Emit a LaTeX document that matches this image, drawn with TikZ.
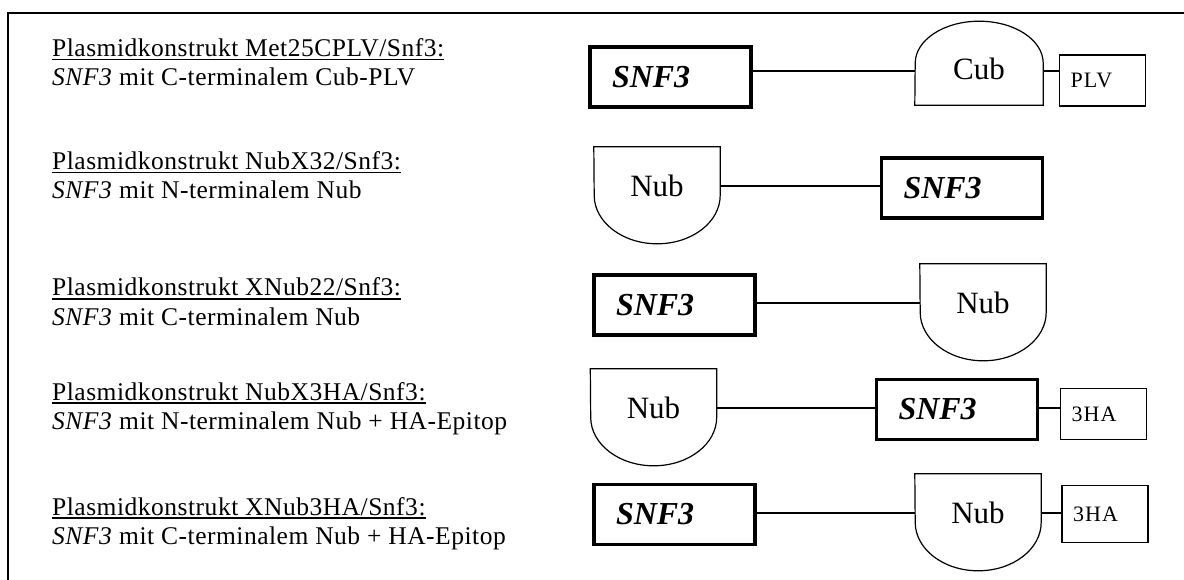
\documentclass[tikz,border=0pt]{standalone}
\usepackage{fontspec}
\setmainfont{Liberation Serif}
\newfontfamily\descfont{Liberation Serif}[LetterSpace=2]
\newfontfamily\tagfont{Liberation Serif}[LetterSpace=5]
\usetikzlibrary{positioning,calc}

% underline as in the original, crossing the descenders
\newcommand{\konstrukt}[1]{\setbox0\hbox{#1}\rlap{\rule[-3.5pt]{\wd0}{1.3pt}}\box0}

\tikzset{
  gene/.style={draw, line width=3.2pt, minimum height=60pt, text width=117pt, inner xsep=22pt, align=left,
    font=\fontsize{32}{38}\selectfont\bfseries\itshape},
  tagbox/.style={draw, line width=1.2pt, minimum height=51pt, text width=64pt, inner xsep=11pt, align=left,
    font=\tagfont\fontsize{22}{26}\selectfont},
  dom/.style={minimum width=126pt, minimum height=78pt, inner sep=0pt, font=\fontsize{31}{36}\selectfont},
  domline/.style={line width=1.2pt},
  link/.style={line width=1.2pt},
  desc/.style={anchor=base west, align=left, inner sep=0pt, font=\descfont\fontsize{25.5}{29}\selectfont}
}

\begin{document}
\begin{tikzpicture}[x=1pt, y=1pt]
  \useasboundingbox (0,0) rectangle (1184,-580);
  \draw[line width=1.5pt] (8,-580) -- (8,-13) -- (1184,-13);

  % descriptions (anchored on the second line)
  \node[desc] (d1) at (52,-86) {\konstrukt{Plasmidkonstrukt Met25CPLV/Snf3:}\\\textit{SNF3} mit C-terminalem Cub-PLV};
  \node[desc] (d2) at (52,-199) {\konstrukt{Plasmidkonstrukt NubX32/Snf3:}\\\textit{SNF3} mit N-terminalem Nub};
  \node[desc] (d3) at (52,-325) {\konstrukt{Plasmidkonstrukt XNub22/Snf3:}\\\textit{SNF3} mit C-terminalem Nub};
  \node[desc] (d4) at (52,-429) {\konstrukt{Plasmidkonstrukt NubX3HA/Snf3:}\\\textit{SNF3} mit N-terminalem Nub + HA-Epitop};
  \node[desc] (d5) at (52,-544) {\konstrukt{Plasmidkonstrukt XNub3HA/Snf3:}\\\textit{SNF3} mit C-terminalem Nub + HA-Epitop};

  % Met25CPLV
  \node[gene] (s1) at (670.5,-77) {SNF3};
  \node[dom, minimum width=128pt, minimum height=68pt] (c1) at (979,-71) {\raisebox{4pt}{Cub}};
  \draw[domline] (c1.south west) -- (c1.south east) -- ++(0,42) arc[start angle=0, end angle=180, x radius=64, y radius=42] -- cycle;
  \node[tagbox] (p1) at (1102.5,-80.5) {PLV};
  \draw[link] (s1.east |- c1.west) -- (c1.west);
  \draw[link] (c1.east) -- (c1.east -| p1.west);

  % NubX32
  \node[dom] (n2) at (657,-186) {Nub};
  \draw[domline] (n2.north west) -- (n2.north east) -- ++(0,-48.5) arc[start angle=0, end angle=-180, x radius=63, y radius=48.5] -- cycle;
  \node[gene] (s2) at (962,-188) {SNF3};
  \draw[link] (n2.east) -- (n2.east -| s2.west);

  % XNub22
  \node[gene] (s3) at (674.5,-305) {SNF3};
  \node[dom] (n3) at (983,-303) {Nub};
  \draw[domline] (n3.north west) -- (n3.north east) -- ++(0,-48.5) arc[start angle=0, end angle=-180, x radius=63, y radius=48.5] -- cycle;
  \draw[link] (s3.east |- n3.west) -- (n3.west);

  % NubX3HA
  \node[dom] (n4) at (653.5,-408) {Nub};
  \draw[domline] (n4.north west) -- (n4.north east) -- ++(0,-48.5) arc[start angle=0, end angle=-180, x radius=63, y radius=48.5] -- cycle;
  \node[gene] (s4) at (957,-409.5) {SNF3};
  \node[tagbox] (t4) at (1103.5,-414) {3HA};
  \draw[link] (n4.east) -- (n4.east -| s4.west);
  \draw[link] (s4.east |- n4.east) -- (n4.east -| t4.west);

  % XNub3HA
  \node[gene] (s5) at (674.5,-514.5) {SNF3};
  \node[dom] (n5) at (978,-513) {Nub};
  \draw[domline] (n5.north west) -- (n5.north east) -- ++(0,-48.5) arc[start angle=0, end angle=-180, x radius=63, y radius=48.5] -- cycle;
  \node[tagbox, minimum height=57pt] (t5) at (1105,-514) {3HA};
  \draw[link] (s5.east |- n5.west) -- (n5.west);
  \draw[link] (n5.east) -- (n5.east -| t5.west);
\end{tikzpicture}
\end{document}
